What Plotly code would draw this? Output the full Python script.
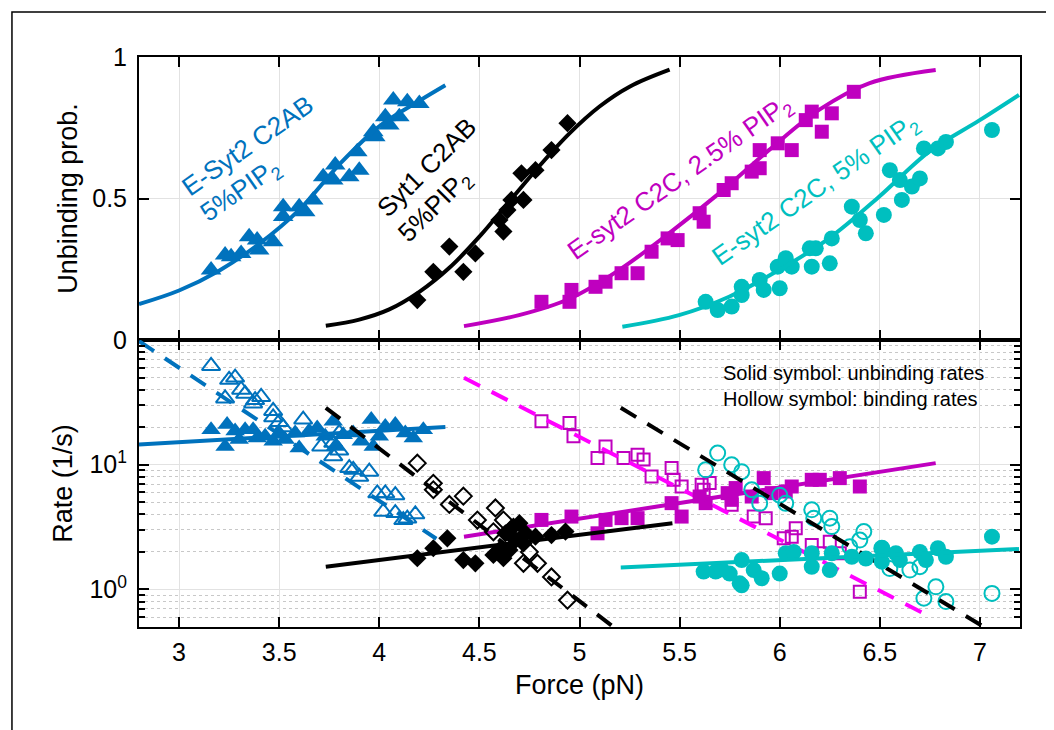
import math
import plotly.graph_objects as go

BLUE = "#0072BD"
BLACK = "#000000"
MAG = "#BF00BF"
MAGD = "#FF00FF"
CYAN = "#00BFBF"
FONT = "Liberation Sans, Arial, Helvetica, sans-serif"

# ---------------- Top panel: unbinding probability ----------------
esyt2_c2ab_F = [3.16, 3.23, 3.26, 3.31, 3.35, 3.39, 3.47, 3.40, 3.52, 3.52, 3.60, 3.63, 3.67, 3.72,
                3.77, 3.78, 3.85, 3.89, 3.90, 3.97, 3.98, 4.03, 4.05, 4.07, 4.10, 4.14, 4.20]
esyt2_c2ab_P = [0.247, 0.30, 0.294, 0.306, 0.365, 0.353, 0.347, 0.318, 0.471, 0.436, 0.471, 0.453, 0.495, 0.577,
                0.565, 0.618, 0.577, 0.665, 0.60, 0.736, 0.718, 0.789, 0.76, 0.848, 0.789, 0.842, 0.836]
esyt2_c2ab_fitF = [2.8, 3.0, 3.2, 3.4, 3.6, 3.8, 4.0, 4.2, 4.33]
esyt2_c2ab_fitP = [0.127, 0.175, 0.245, 0.34, 0.46, 0.62, 0.755, 0.845, 0.90]

syt1_F = [4.19, 4.27, 4.35, 4.42, 4.48, 4.60, 4.62, 4.64, 4.66, 4.72, 4.71, 4.78, 4.86, 4.94]
syt1_P = [0.141, 0.241, 0.33, 0.241, 0.306, 0.424, 0.383, 0.459, 0.495, 0.495, 0.589, 0.60, 0.671, 0.766]
syt1_fitF = [3.733, 3.9, 4.05, 4.2, 4.35, 4.5, 4.65, 4.8, 4.95, 5.1, 5.25, 5.45]
syt1_fitP = [0.05, 0.072, 0.108, 0.17, 0.255, 0.365, 0.49, 0.615, 0.73, 0.825, 0.895, 0.955]

c2c25_F = [4.81, 4.96, 4.95, 5.08, 5.13, 5.21, 5.29, 5.36, 5.44, 5.49, 5.60, 5.62, 5.72, 5.76,
           5.86, 5.90, 5.90, 5.99, 6.06, 6.13, 6.16, 6.21, 6.26, 6.37]
c2c25_P = [0.135, 0.177, 0.135, 0.188, 0.206, 0.236, 0.236, 0.312, 0.359, 0.353, 0.448, 0.418, 0.53, 0.554,
           0.595, 0.607, 0.671, 0.695, 0.671, 0.777, 0.807, 0.736, 0.801, 0.877]
c2c25_fitF = [4.423, 4.698, 4.948, 5.197, 5.447, 5.697, 5.946, 6.196, 6.446, 6.779]
c2c25_fitP = [0.049, 0.088, 0.145, 0.247, 0.377, 0.518, 0.671, 0.813, 0.907, 0.954]

c2c5_F = [5.63, 5.69, 5.76, 5.81, 5.81, 5.90, 5.92, 6.00, 5.99, 6.03, 6.06, 6.15, 6.16, 6.18, 6.25,
          6.26, 6.36, 6.40, 6.43, 6.52, 6.55, 6.60, 6.61, 6.66, 6.70, 6.72, 6.79, 6.83, 7.06]
c2c5_P = [0.135, 0.106, 0.118, 0.188, 0.159, 0.212, 0.177, 0.183, 0.259, 0.289, 0.259, 0.324, 0.259, 0.324, 0.271,
          0.359, 0.471, 0.424, 0.377, 0.442, 0.60, 0.565, 0.495, 0.542, 0.571, 0.677, 0.677, 0.70, 0.742]
c2c5_fitF = [5.214, 5.497, 5.747, 5.996, 6.246, 6.496, 6.745, 6.995, 7.195]
c2c5_fitP = [0.047, 0.088, 0.153, 0.247, 0.359, 0.506, 0.665, 0.775, 0.866]

# ---------------- Bottom panel: rates ----------------
esyt2_bind_F = [3.16, 3.25, 3.28, 3.23, 3.31, 3.33, 3.37, 3.41, 3.38, 3.47, 3.47, 3.50, 3.52, 3.62, 3.71, 3.77,
                3.80, 3.77, 3.80, 3.85, 3.87, 3.90, 3.95, 3.99, 4.03, 4.08, 4.02, 4.08, 4.12, 4.14, 4.18]
esyt2_bind_R = [62, 48, 50, 34, 40, 37, 31, 35, 33, 27, 24, 22, 20, 23, 14, 15,
                18, 11.7, 13, 9.4, 9.1, 8.0, 8.8, 5.9, 5.9, 5.7, 4.2, 4.1, 3.6, 3.7, 4.0]
esyt2_unbind_F = [3.16, 3.24, 3.23, 3.28, 3.30, 3.33, 3.37, 3.39, 3.43, 3.47, 3.50, 3.53, 3.58, 3.60, 3.65,
                  3.69, 3.73, 3.77, 3.78, 3.82, 3.87, 3.91, 3.96, 3.97, 4.00, 4.03, 4.08, 4.13, 4.17, 4.22]
esyt2_unbind_R = [19.1, 21, 14.0, 18.6, 15.9, 19.1, 19.1, 16.4, 16.9, 15.4, 18, 15.9, 18, 13.6, 18.6,
                  19.7, 16.9, 22.3, 14.0, 17.4, 18, 15.4, 23, 14.0, 16.9, 20.3, 21, 18, 16.4, 19.1]
esyt2_bind_lineF = [2.8, 4.285]
esyt2_bind_lineR = [98, 2.55]
esyt2_unbind_lineF = [2.8, 4.33]
esyt2_unbind_lineR = [14.5, 20.1]

syt1_bind_F = [4.19, 4.27, 4.27, 4.35, 4.42, 4.49, 4.58, 4.57, 4.62, 4.72, 4.79, 4.75, 4.86, 4.94]
syt1_bind_R = [10.3, 7.1, 6.3, 4.8, 5.6, 3.6, 4.5, 2.9, 3.6, 1.62, 1.62, 2.0, 1.26, 0.82]
syt1_unbind_F = [4.19, 4.27, 4.34, 4.42, 4.48, 4.57, 4.60, 4.63, 4.67, 4.70, 4.68, 4.65, 4.62, 4.73, 4.78,
                 4.86, 4.93, 4.72]
syt1_unbind_R = [1.78, 2.14, 2.57, 1.72, 1.62, 1.89, 2.07, 2.82, 3.19, 3.40, 2.49, 2.07, 1.78, 2.82, 2.65,
                 2.73, 2.91, 2.34]
syt1_bind_lineF = [3.733, 5.17]
syt1_bind_lineR = [28.6, 0.5]
syt1_unbind_lineF = [3.733, 5.464]
syt1_unbind_lineR = [1.52, 3.40]

c2c25_bind_F = [4.81, 4.95, 4.97, 5.09, 5.13, 5.22, 5.29, 5.32, 5.36, 5.46, 5.47, 5.51, 5.61, 5.65, 5.62,
                5.76, 5.87, 5.93, 6.02, 6.08, 6.06, 6.16, 6.25, 6.20, 6.30, 6.40]
c2c25_bind_R = [22.3, 21.6, 16.9, 11.3, 14.0, 11.3, 12.0, 11.0, 8.05, 9.4, 7.57, 6.69, 6.9, 7.13, 6.3,
                4.77, 3.84, 3.73, 2.57, 3.1, 2.65, 2.27, 2.41, 1.95, 1.95, 0.96]
c2c25_unbind_F = [4.81, 4.96, 5.09, 5.13, 5.21, 5.29, 5.46, 5.51, 5.60, 5.63, 5.74, 5.78, 5.76, 5.86, 5.92,
                  5.96, 6.03, 6.06, 6.16, 6.20, 6.30, 6.40]
c2c25_unbind_R = [3.61, 3.84, 2.82, 3.61, 3.73, 3.73, 4.92, 3.84, 5.56, 4.92, 5.92, 6.5, 5.23, 5.56, 7.81,
                  5.92, 6.1, 6.69, 7.57, 7.57, 7.81, 6.69]
c2c25_bind_lineF = [4.423, 6.73]
c2c25_bind_lineR = [49.8, 0.63]
c2c25_unbind_lineF = [4.423, 6.779]
c2c25_unbind_lineR = [2.65, 10.3]

c2c5_bind_F = [5.69, 5.63, 5.76, 5.81, 5.86, 5.90, 6.00, 6.03, 6.16, 6.17, 6.25, 6.26, 6.42, 6.40, 6.35,
               6.51, 6.55, 6.65, 6.70, 6.72, 6.78, 6.83, 7.06]
c2c5_bind_R = [12.4, 9.1, 10.0, 8.8, 6.3, 4.9, 5.7, 4.9, 4.35, 3.73, 3.73, 3.19, 2.91, 2.49, 2.2,
               2.14, 1.47, 1.43, 1.52, 0.85, 1.05, 0.80, 0.93]
c2c5_unbind_F = [5.62, 5.68, 5.75, 5.81, 5.81, 5.87, 5.91, 6.00, 6.03, 6.07, 6.16, 6.25, 6.16, 6.26, 6.36,
                 6.43, 6.51, 6.51, 6.58, 6.60, 6.70, 6.73, 6.79, 6.83, 7.06, 5.80, 5.71]
c2c5_unbind_R = [1.39, 1.39, 1.34, 1.72, 1.08, 1.43, 1.23, 1.34, 1.95, 2.0, 1.52, 1.43, 1.95, 1.95, 1.83,
                 1.77, 2.14, 1.67, 1.95, 1.72, 2.0, 1.72, 2.14, 1.83, 2.65, 1.12, 1.45]
c2c5_bind_lineF = [5.206, 7.02]
c2c5_bind_lineR = [28.6, 0.5]
c2c5_unbind_lineF = [5.206, 7.195]
c2c5_unbind_lineR = [1.50, 2.11]

x_ticks = [3, 3.5, 4, 4.5, 5, 5.5, 6, 6.5, 7]
x_ticktext = ["3", "3.5", "4", "4.5", "5", "5.5", "6", "6.5", "7"]

fig = go.Figure()
DASH = "18px,13px"


def line(x, y, color, ax, dash="solid", shape="linear"):
    fig.add_trace(go.Scatter(x=x, y=y, mode="lines", xaxis=ax[0], yaxis=ax[1], showlegend=False,
                             line=dict(color=color, width=4, dash=dash, shape=shape, smoothing=1.0),
                             hoverinfo="skip"))


def pts(x, y, color, symbol, size, ax, hollow=False):
    if hollow:
        mk = dict(symbol=symbol + "-open", size=size, color=color, line=dict(color=color, width=2))
    else:
        mk = dict(symbol=symbol, size=size, color=color, line=dict(width=0))
    fig.add_trace(go.Scatter(x=x, y=y, mode="markers", xaxis=ax[0], yaxis=ax[1], showlegend=False,
                             marker=mk))


TOP = ("x", "y")
BOT = ("x2", "y2")

# top panel
pts(esyt2_c2ab_F, esyt2_c2ab_P, BLUE, "triangle-up", 18, TOP)
line(esyt2_c2ab_fitF, esyt2_c2ab_fitP, BLUE, TOP, shape="spline")
pts(syt1_F, syt1_P, BLACK, "diamond", 14, TOP)
line(syt1_fitF, syt1_fitP, BLACK, TOP, shape="spline")
pts(c2c25_F, c2c25_P, MAG, "square", 14, TOP)
line(c2c25_fitF, c2c25_fitP, MAG, TOP, shape="spline")
pts(c2c5_F, c2c5_P, CYAN, "circle", 16, TOP)
line(c2c5_fitF, c2c5_fitP, CYAN, TOP, shape="spline")

# bottom panel
pts(esyt2_unbind_F, esyt2_unbind_R, BLUE, "triangle-up", 17, BOT)
pts(esyt2_bind_F, esyt2_bind_R, BLUE, "triangle-up", 16, BOT, hollow=True)
line(esyt2_unbind_lineF, esyt2_unbind_lineR, BLUE, BOT)
line(esyt2_bind_lineF, esyt2_bind_lineR, BLUE, BOT, dash=DASH)

pts(c2c25_bind_F, c2c25_bind_R, MAG, "square", 12, BOT, hollow=True)
line(c2c25_bind_lineF, c2c25_bind_lineR, MAGD, BOT, dash=DASH)
pts(c2c25_unbind_F, c2c25_unbind_R, MAG, "square", 14, BOT)
line(c2c25_unbind_lineF, c2c25_unbind_lineR, MAG, BOT)

pts(syt1_bind_F, syt1_bind_R, BLACK, "diamond", 13, BOT, hollow=True)
line(syt1_bind_lineF, syt1_bind_lineR, BLACK, BOT, dash=DASH)
pts(syt1_unbind_F, syt1_unbind_R, BLACK, "diamond", 14, BOT)
line(syt1_unbind_lineF, syt1_unbind_lineR, BLACK, BOT)

pts(c2c5_bind_F, c2c5_bind_R, CYAN, "circle", 15, BOT, hollow=True)
line(c2c5_bind_lineF, c2c5_bind_lineR, BLACK, BOT, dash=DASH)
pts(c2c5_unbind_F, c2c5_unbind_R, CYAN, "circle", 16, BOT)
line(c2c5_unbind_lineF, c2c5_unbind_lineR, CYAN, BOT)

SPLIT = 0.5035
GRID = "#e2e2e2"
TICKFONT = dict(size=25, color="black", family=FONT)
common_x = dict(range=[2.8, 7.2], tickmode="array", tickvals=x_ticks, ticktext=x_ticktext,
                ticks="inside", ticklen=10, tickwidth=2, tickcolor="black", mirror="ticks",
                showline=True, linewidth=2, linecolor="black", showgrid=True, gridcolor=GRID,
                gridwidth=1, zeroline=False, tickfont=TICKFONT)
common_y = dict(ticks="inside", ticklen=10, tickwidth=2, tickcolor="black", mirror="ticks",
                showline=True, linewidth=2, linecolor="black", showgrid=True, gridcolor=GRID,
                gridwidth=1, zeroline=False, tickfont=TICKFONT, ticklabelstandoff=5)

minor_vals = [v * m for m in (0.1, 1, 10) for v in range(2, 10)]
minor_vals = [v for v in minor_vals if 0.5 < v < 100]

AXTITLE = dict(family=FONT, size=27, color="black")

# the page body adds an 8px offset, so the figure is 8px smaller and margins shifted
fig.update_layout(
    width=1046, height=722,
    margin=dict(l=131, r=34, t=49, b=103),
    paper_bgcolor="white", plot_bgcolor="white",
    font=dict(family=FONT, color="black", size=24),
    xaxis=dict(common_x, anchor="y", domain=[0, 1], showticklabels=False),
    yaxis=dict(common_y, anchor="x", domain=[SPLIT, 1], range=[0, 1], tickmode="array",
               tickvals=[0, 0.5, 1], ticktext=["0", "0.5", "1"],
               title=dict(text="Unbinding prob.", font=AXTITLE, standoff=7)),
    xaxis2=dict(common_x, anchor="y2", domain=[0, 1], showticklabels=True, ticklabelstandoff=2,
                title=dict(text="Force (pN)", font=AXTITLE, standoff=10)),
    yaxis2=dict(common_y, anchor="x2", domain=[0, SPLIT], type="log",
                range=[math.log10(0.5), 2], tickmode="array", tickvals=[1, 10],
                ticktext=["10<sup>0</sup>", "10<sup>1</sup>"],
                title=dict(text="Rate (1/s)", font=AXTITLE, standoff=9),
                minor=dict(tickmode="array", tickvals=minor_vals, ticks="inside", ticklen=6,
                           tickwidth=2, tickcolor="black", showgrid=True, gridcolor="#c8c8c8",
                           gridwidth=1, griddash="dot")),
)

ann_font = dict(family=FONT, size=26)
annotations = [
    dict(text="E-Syt2 C2AB", x=3.34, y=0.686, textangle=-35, color=BLUE),
    dict(text="5%PIP<sub>2</sub>", x=3.31, y=0.527, textangle=-35, color=BLUE),
    dict(text="Syt1 C2AB", x=4.238, y=0.611, textangle=-45, color=BLACK),
    dict(text="5%PIP<sub>2</sub>", x=4.278, y=0.473, textangle=-45, color=BLACK),
    dict(text="E-syt2 C2C, 2.5% PIP<sub>2</sub>", x=5.50, y=0.572, textangle=-35, color=MAG),
    dict(text="E-syt2 C2C, 5% PIP<sub>2</sub>", x=6.18, y=0.527, textangle=-35, color=CYAN),
]
for a in annotations:
    fig.add_annotation(text=a["text"], x=a["x"], y=a["y"], xref="x", yref="y", showarrow=False,
                       textangle=a["textangle"], xanchor="center", yanchor="middle",
                       font=dict(ann_font, color=a["color"]))

fig.add_annotation(text="Solid symbol: unbinding rates", x=5.707, y=1.738, xref="x2", yref="y2",
                   showarrow=False, xanchor="left", yanchor="middle",
                   font=dict(family=FONT, size=20, color="black"))
fig.add_annotation(text="Hollow symbol: binding rates", x=5.707, y=1.524, xref="x2", yref="y2",
                   showarrow=False, xanchor="left", yanchor="middle",
                   font=dict(family=FONT, size=20, color="black"))

# outer frame (partly cut off at right and bottom)
fig.add_shape(type="rect", xref="paper", yref="paper", x0=-0.1442, x1=1.3, y0=-0.5, y1=1.0789,
              line=dict(color="black", width=1.5), fillcolor="rgba(0,0,0,0)", layer="above")

fig.write_html("out.html")
